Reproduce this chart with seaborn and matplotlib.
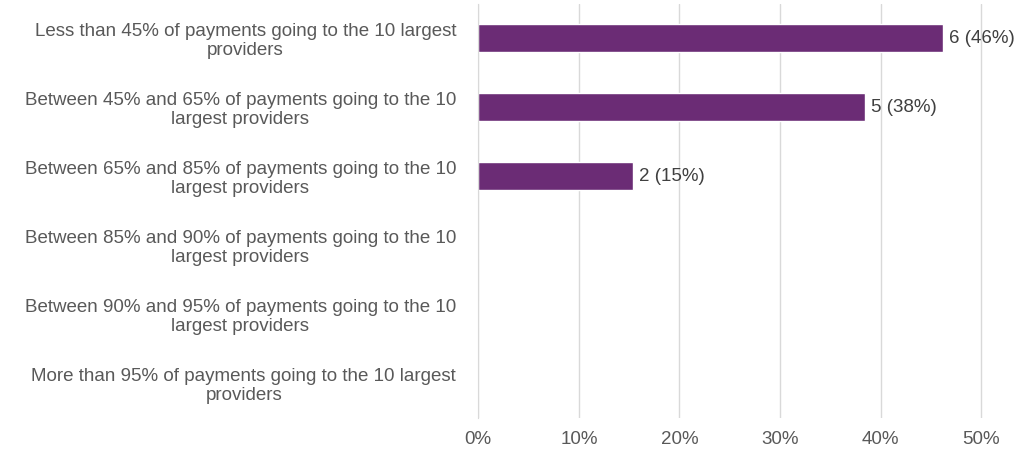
import matplotlib
matplotlib.use("Agg")
import matplotlib.pyplot as plt
import matplotlib.ticker as mticker
import seaborn as sns
import pandas as pd

categories = [
    "Less than 45% of payments going to the 10 largest\nproviders",
    "Between 45% and 65% of payments going to the 10\nlargest providers",
    "Between 65% and 85% of payments going to the 10\nlargest providers",
    "Between 85% and 90% of payments going to the 10\nlargest providers",
    "Between 90% and 95% of payments going to the 10\nlargest providers",
    "More than 95% of payments going to the 10 largest\nproviders",
]
counts = [6, 5, 2, 0, 0, 0]
shares = [0.4615, 0.3846, 0.1538, 0.0, 0.0, 0.0]
bar_labels = ["6 (46%)", "5 (38%)", "2 (15%)", "", "", ""]

df = pd.DataFrame({"category": categories, "share": shares})

sns.set_style("white")
plt.rcParams["font.family"] = ["Liberation Sans", "DejaVu Sans"]

fig = plt.figure(figsize=(10.33, 4.49), dpi=100)
ax = fig.add_axes([0.463, 0.070, 0.4918, 0.922])

sns.barplot(data=df, x="share", y="category", orient="h", color="#6b2c75",
            width=0.41, saturation=1, ax=ax)

ax.set_xlim(0, 0.505)
ax.xaxis.set_major_locator(mticker.MultipleLocator(0.1))
ax.xaxis.set_major_formatter(mticker.PercentFormatter(1.0, decimals=0))
ax.grid(axis="x", color="#d9d9d9", linewidth=1)
ax.set_axisbelow(True)
for s in ["top", "right", "bottom"]:
    ax.spines[s].set_visible(False)
ax.spines["left"].set_color("#d9d9d9")
ax.set_xlabel("")
ax.set_ylabel("")
ax.tick_params(axis="both", length=0, labelsize=13.5, colors="#595959")
ax.tick_params(axis="y", pad=16)
ax.tick_params(axis="x", pad=10)
for lab in ax.get_yticklabels():
    lab.set_multialignment("center")
    lab.set_linespacing(1.15)

for i, (v, t) in enumerate(zip(shares, bar_labels)):
    if t:
        ax.text(v + 0.006, i, t, va="center", ha="left", fontsize=13.5, color="#404040")

ax.set_ylim(5.5, -0.5)
fig.savefig("out.png", dpi=100)
